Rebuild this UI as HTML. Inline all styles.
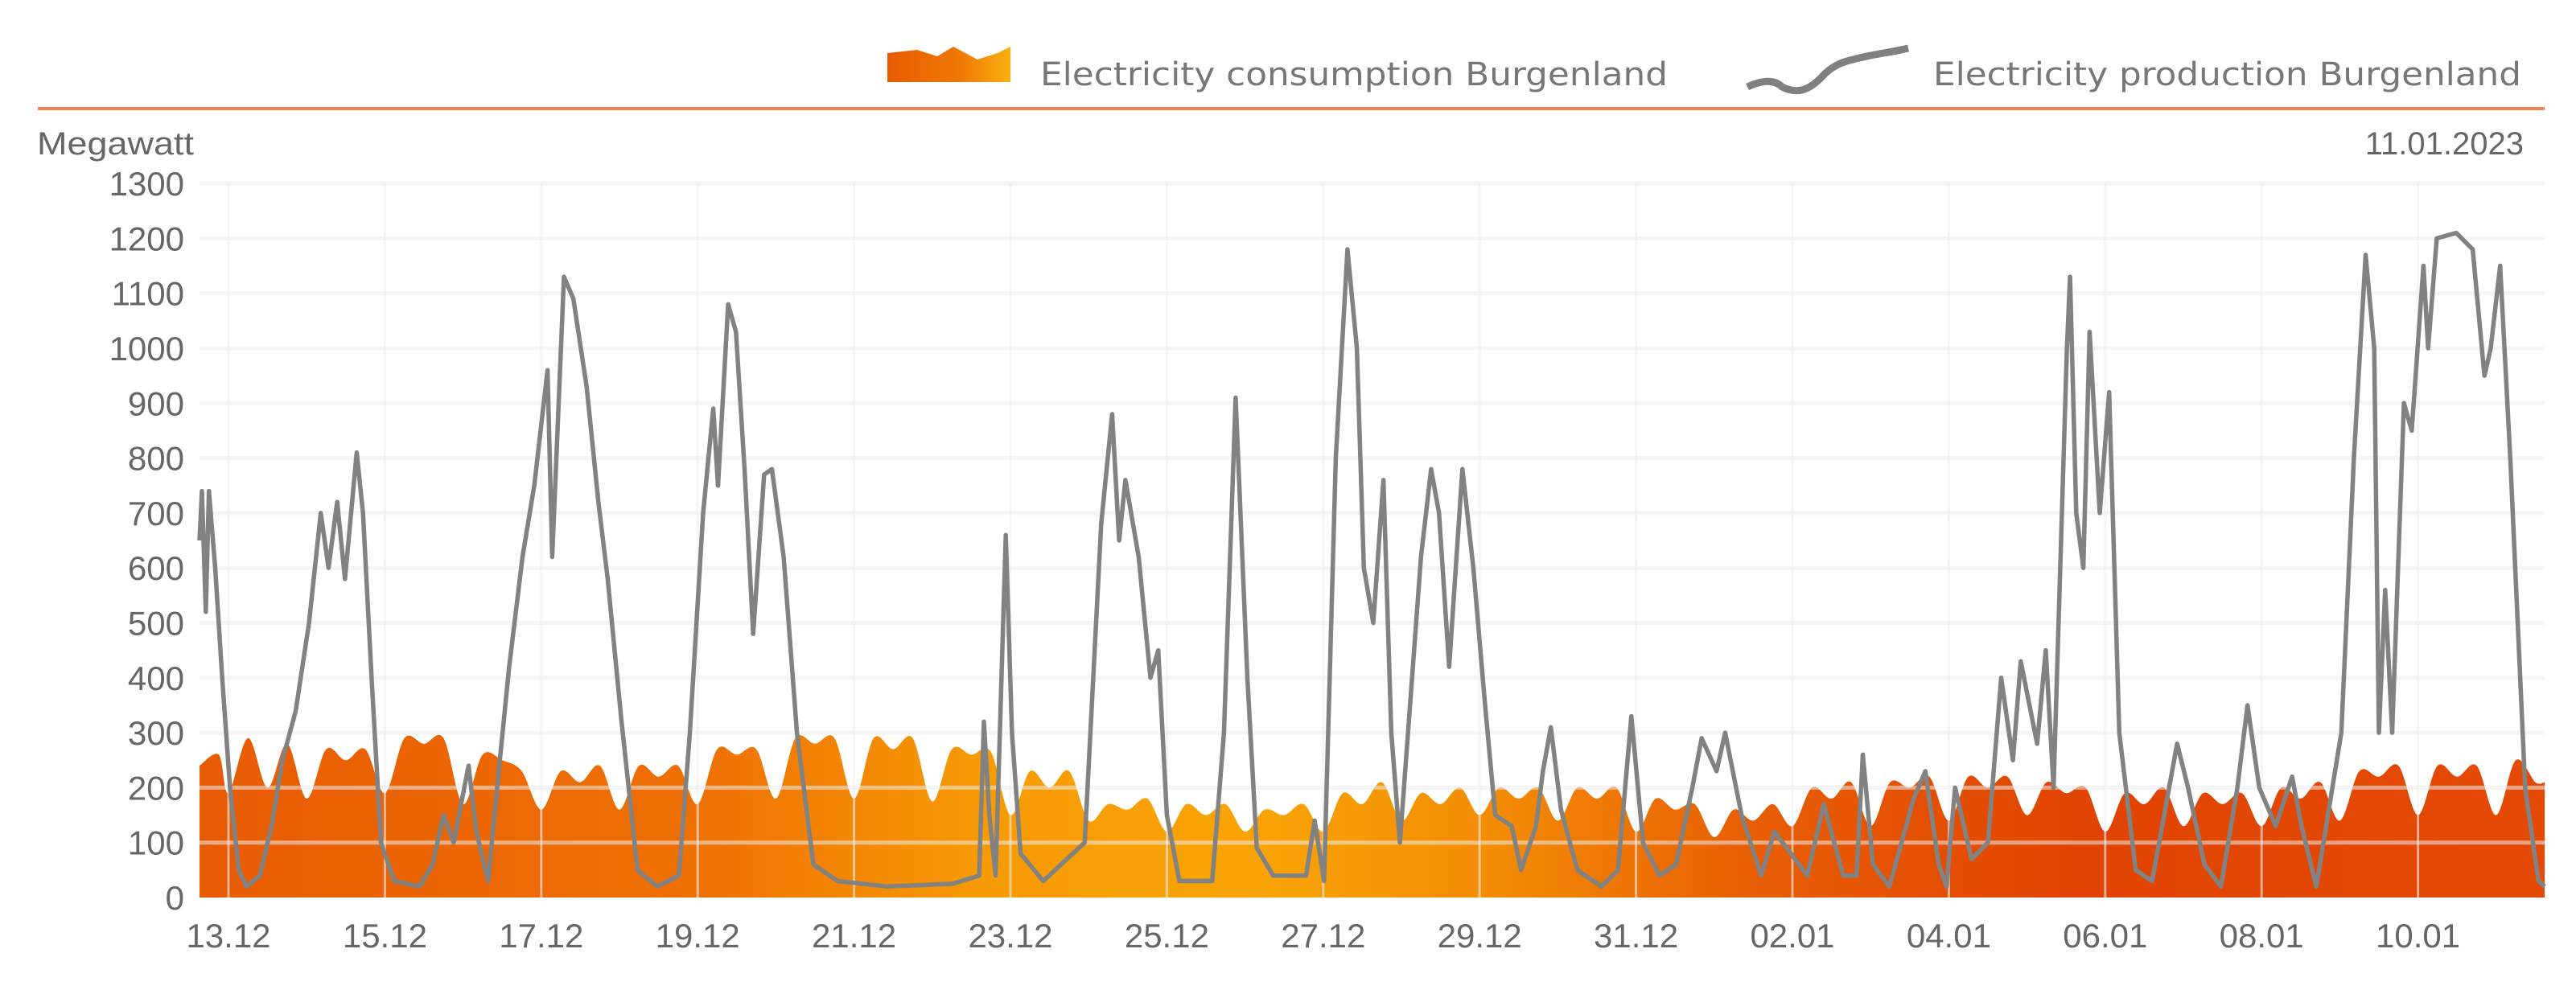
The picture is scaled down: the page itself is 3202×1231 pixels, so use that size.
<!DOCTYPE html>
<html><head><meta charset="utf-8">
<style>
html,body{margin:0;padding:0;background:#fff;}
svg{display:block;font-family:"Liberation Sans",sans-serif;}
</style></head>
<body>
<svg id="chart" width="3202" height="1231" viewBox="0 0 3202 1231" xmlns="http://www.w3.org/2000/svg">
<defs>
<linearGradient id="consGrad" x1="248" y1="0" x2="3164" y2="0" gradientUnits="userSpaceOnUse">
<stop offset="0" stop-color="#e85a03"/>
<stop offset="0.22" stop-color="#ef7204"/>
<stop offset="0.33" stop-color="#f79a05"/>
<stop offset="0.45" stop-color="#f9a406"/>
<stop offset="0.55" stop-color="#f38d05"/>
<stop offset="0.66" stop-color="#e85e04"/>
<stop offset="0.8" stop-color="#e14402"/>
<stop offset="1" stop-color="#e44a06"/>
</linearGradient>
<linearGradient id="legGrad" x1="0" y1="0" x2="1" y2="0">
<stop offset="0" stop-color="#e85a03"/><stop offset="0.6" stop-color="#f07a04"/><stop offset="1" stop-color="#f9b010"/>
</linearGradient>
</defs>
<g>
<path d="M1103,102 L1103,66 L1140,62 L1165,70 L1185,58 L1215,74 L1240,66 L1256,58 L1256,102 Z" fill="url(#legGrad)"/>
<text x="1293" y="106" font-family="DejaVu Sans, sans-serif" font-size="40" fill="#777" textLength="780" lengthAdjust="spacingAndGlyphs">Electricity consumption Burgenland</text>
<path d="M2172,108 C2190,100 2205,98 2215,108 C2235,118 2250,112 2268,92 C2285,76 2300,75 2320,70 C2340,66 2355,64 2372,60" fill="none" stroke="#808080" stroke-width="9"/>
<text x="2403" y="106" font-family="DejaVu Sans, sans-serif" font-size="40" fill="#777" textLength="731" lengthAdjust="spacingAndGlyphs">Electricity production Burgenland</text>
</g>
<rect x="47" y="133" width="3116" height="4" fill="#f08454"/>
<text x="46" y="192" font-size="40" fill="#666" textLength="195" lengthAdjust="spacingAndGlyphs">Megawatt</text>
<text x="3137" y="192" font-size="40" fill="#666" text-anchor="end">11.01.2023</text>
<g id="plot"></g>
</svg>
<script>
// ---- data ----
const yTicks = [0,100,200,300,400,500,600,700,800,900,1000,1100,1200,1300];
const xTickLabels = ["13.12","15.12","17.12","19.12","21.12","23.12","25.12","27.12","29.12","31.12","02.01","04.01","06.01","08.01","10.01"];
const xTickDays = [0,2,4,6,8,10,12,14,16,18,20,22,24,26,28];
// consumption: start values then per day at 00,06,12,18h
const consStart = [240,260];
const consDaily = [
[190,290,200,280],[180,270,250,270],[190,290,280,290],[170,260,250,230],
[160,230,210,240],[160,240,220,240],[170,270,260,270],[180,290,280,290],
[180,290,270,290],[175,270,260,265],[150,230,200,230],[140,170,160,180],
[120,170,150,170],[120,160,150,170],[120,190,170,210],[140,190,170,200],
[150,200,180,200],[140,200,180,200],[120,180,160,170],[110,160,140,170],
[130,200,180,210],[130,210,200,220],[140,220,200,220],[150,210,190,200],
[120,190,170,200],[130,190,170,190],[130,200,180,210],[140,230,220,240],
[150,240,220,240],[150,250,210]
];
// production: time (days since 13.12 00:00) and value (MW)
const prodDays = [-0.38,-0.34,-0.29,-0.25,-0.17,-0.08,0.02,0.13,0.23,0.40,0.55,0.69,0.86,1.03,1.18,1.28,1.39,1.49,1.64,1.72,1.83,1.95,2.12,2.44,2.61,2.75,2.88,3.07,3.17,3.32,3.47,3.59,3.76,3.91,4.08,4.14,4.29,4.41,4.58,4.73,4.85,5.02,5.23,5.48,5.76,5.90,6.07,6.20,6.26,6.39,6.49,6.60,6.71,6.85,6.95,7.10,7.27,7.48,7.79,8.42,9.26,9.60,9.66,9.73,9.81,9.94,10.02,10.13,10.42,10.95,11.16,11.30,11.39,11.47,11.64,11.79,11.89,12.0,12.16,12.58,12.73,12.88,13.03,13.15,13.36,13.78,13.89,14.01,14.16,14.31,14.43,14.52,14.64,14.77,14.87,14.98,15.11,15.25,15.38,15.48,15.61,15.78,15.92,16.07,16.20,16.41,16.53,16.72,16.81,16.91,17.04,17.25,17.56,17.77,17.94,18.09,18.30,18.51,18.72,18.84,19.03,19.14,19.35,19.60,19.77,19.98,20.19,20.40,20.65,20.82,20.90,21.03,21.24,21.55,21.70,21.87,21.97,22.08,22.29,22.50,22.67,22.82,22.92,23.13,23.24,23.34,23.51,23.55,23.63,23.72,23.80,23.93,24.05,24.18,24.39,24.60,24.92,25.06,25.27,25.48,25.69,25.82,25.97,26.18,26.39,26.51,26.70,27.02,27.18,27.33,27.44,27.50,27.58,27.67,27.82,27.92,28.07,28.13,28.24,28.49,28.70,28.85,28.93,29.05,29.18,29.37,29.54,29.62];
const prodValues = [650,740,520,740,600,400,200,50,20,40,130,250,340,500,700,600,720,580,810,700,400,100,30,20,60,150,100,240,120,30,250,420,620,750,960,620,1130,1090,930,720,580,330,50,20,40,300,700,890,750,1080,1030,780,480,770,780,620,300,60,30,20,25,40,320,150,40,660,300,80,30,100,680,880,650,760,620,400,450,150,30,30,300,910,400,90,40,40,140,30,800,1180,1000,600,500,760,300,100,350,620,780,700,420,780,600,350,150,130,50,130,230,310,160,50,20,50,330,100,40,60,200,290,230,300,150,40,120,80,40,170,40,40,260,60,20,180,230,60,20,200,70,100,400,250,430,280,450,200,1000,1130,700,600,1030,700,920,300,50,30,280,200,60,20,200,350,200,130,220,130,20,300,800,1170,1000,300,560,300,900,850,1150,1000,1200,1210,1180,950,1000,1150,800,200,30,20];

// ---- axes ----
const X0 = 284, DAY = 97.2, Y0 = 1116, PX100 = 68.3;
const tMin = -0.37, tMax = 29.62;
const xs = d => X0 + d * DAY;
const ys = v => Y0 - v * PX100 / 100;
const NS = "http://www.w3.org/2000/svg";
const plot = document.getElementById('plot');
function mk(tag, attrs){const e=document.createElementNS(NS,tag);for(const k in attrs)e.setAttribute(k,attrs[k]);return e;}

// consumption area (smoothed)
const cT=[], cV=[];
cT.push(-0.375); cV.push(consStart[0]);
cT.push(-0.125); cV.push(consStart[1]);
consDaily.forEach((day,i)=>day.forEach((v,j)=>{cT.push(i+j*0.25);cV.push(v);}));
const pts = cT.map((t,i)=>[xs(Math.max(tMin,Math.min(tMax,t))), ys(cV[i])]);
pts.push([xs(tMax), ys(cV[cV.length-1])]);
let d = `M${xs(tMin)},${ys(0)} L${pts[0][0]},${pts[0][1]}`;
for(let i=0;i<pts.length-1;i++){
  const p0=pts[Math.max(0,i-1)], p1=pts[i], p2=pts[i+1], p3=pts[Math.min(pts.length-1,i+2)];
  const c1=[p1[0]+(p2[0]-p0[0])/6, p1[1]+(p2[1]-p0[1])/6];
  const c2=[p2[0]-(p3[0]-p1[0])/6, p2[1]-(p3[1]-p1[1])/6];
  d+=` C${c1[0].toFixed(1)},${c1[1].toFixed(1)} ${c2[0].toFixed(1)},${c2[1].toFixed(1)} ${p2[0].toFixed(1)},${p2[1].toFixed(1)}`;
}
d += ` L${xs(tMax)},${ys(0)} Z`;
const area = mk('path',{d:d,fill:'url(#consGrad)'});


plot.appendChild(area);

// grid
yTicks.forEach(v=>{
  if(v===0) return;
  const l = mk('line',{x1:xs(tMin),x2:xs(tMax),y1:ys(v),y2:ys(v),stroke:'rgba(236,236,236,0.55)','stroke-width':5});
  
  
  plot.appendChild(l);
});
xTickDays.forEach(dd=>{
  const l = mk('line',{x1:xs(dd),x2:xs(dd),y1:ys(1300),y2:ys(0),stroke:'rgba(238,238,238,0.6)','stroke-width':3});
  
  
  plot.appendChild(l);
});

// production line
let pd='';
prodDays.forEach((t,i)=>{const tt=Math.max(tMin,Math.min(tMax,t)); pd+=(i?' L':'M')+xs(tt).toFixed(1)+','+ys(prodValues[i]).toFixed(1);});
const line = mk('path',{d:pd,fill:'none',stroke:'#828282','stroke-width':5.5,'stroke-linejoin':'round'});


plot.appendChild(line);

// y tick labels
yTicks.forEach(v=>{
  const t = mk('text',{x:229,y:ys(v)+15,'text-anchor':'end','font-size':42,fill:'#666'});
  
  
  t.textContent = v;
  plot.appendChild(t);
});
// x tick labels
xTickLabels.forEach((lab,i)=>{
  const t = mk('text',{x:xs(xTickDays[i]),y:1178,'text-anchor':'middle','font-size':42,fill:'#666'});
  
  
  t.textContent = lab;
  plot.appendChild(t);
});
</script>
</body></html>
